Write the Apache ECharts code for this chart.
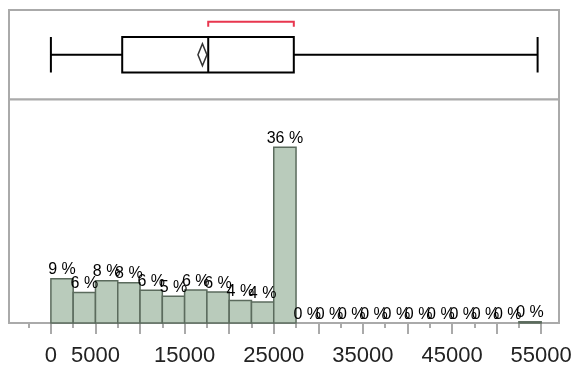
<!DOCTYPE html>
<html>
<head>
<meta charset="utf-8">
<script src="https://cdn.jsdelivr.net/npm/echarts@6/dist/echarts.min.js"></script>
<style>html,body{margin:0;padding:0;background:#fff;}#c{width:575px;height:367px;}</style>
</head>
<body>
<div id="c"></div>
<script>
// ---- data ----
const binStarts = [0, 2500, 5000, 7500, 10000, 12500, 15000, 17500, 20000, 22500, 25000,
  27500, 30000, 32500, 35000, 37500, 40000, 42500, 45000, 47500, 50000, 52500];
const binWidth = 2500;
const binPct = [9.05, 6.24, 8.65, 8.25, 6.7, 5.5, 6.76, 6.36, 4.63, 4.29, 36.0,
  0, 0, 0, 0, 0, 0, 0, 0, 0, 0, 0.25];
const boxValues = [0, 8000, 17650, 27250, 54600]; // min, Q1, median, Q3, max
const meanValue = 17000;
const majorTicks = [0, 5000, 10000, 15000, 20000, 25000, 30000, 35000, 40000, 45000, 50000, 55000];
const minorTicks = [-2500, 2500, 7500, 12500, 17500, 22500, 27500, 32500, 37500, 42500, 47500, 52500];
const tickLabels = [0, 5000, 15000, 25000, 35000, 45000, 55000];

const FONT = "'Liberation Sans', Arial, sans-serif";
const X_MIN = -4700, X_MAX = 57000;

const chart = echarts.init(document.getElementById('c'), null, {renderer: 'canvas'});
const gridStyle = {show: true, borderColor: '#aaaaaa', borderWidth: 2, backgroundColor: '#fff'};

const option = {
  animation: false,
  grid: [
    Object.assign({left: 9, right: 16, top: 10, height: 89.5}, gridStyle),
    Object.assign({left: 9, right: 16, top: 99.5, bottom: 39.7}, gridStyle)
  ],
  xAxis: [
    {gridIndex: 0, type: 'value', min: X_MIN, max: X_MAX, show: false},
    {gridIndex: 1, type: 'value', min: X_MIN, max: X_MAX, position: 'bottom',
      axisLine: {show: true, onZero: false, lineStyle: {color: '#aaaaaa', width: 2}},
      axisTick: {show: true, customValues: majorTicks, length: 11, lineStyle: {color: '#aaaaaa', width: 2}},
      axisLabel: {show: true, customValues: tickLabels, margin: 22, fontSize: 22, fontFamily: FONT, color: '#222',
        formatter: function (v) { return String(v); }},
      splitLine: {show: false}},
    {gridIndex: 1, type: 'value', min: X_MIN, max: X_MAX, position: 'bottom',
      axisLine: {show: false, onZero: false},
      axisTick: {show: true, customValues: minorTicks, length: 5, lineStyle: {color: '#aaaaaa', width: 2}},
      axisLabel: {show: false},
      splitLine: {show: false}}
  ],
  yAxis: [
    {gridIndex: 0, type: 'category', data: ['box'], show: false},
    {gridIndex: 1, type: 'value', min: 0, max: 45.8, show: false}
  ],
  series: [
    {
      type: 'boxplot', xAxisIndex: 0, yAxisIndex: 0,
      boxWidth: [35.5, 35.5],
      data: [boxValues],
      itemStyle: {color: '#fff', borderColor: '#000', borderWidth: 2},
      emphasis: {disabled: true}
    },
    {
      type: 'scatter', xAxisIndex: 0, yAxisIndex: 0, z: 5,
      symbol: 'diamond', symbolSize: [9, 22],
      data: [[meanValue, 0]],
      itemStyle: {color: '#fff', borderColor: '#000', borderWidth: 1.8}
    },
    {
      type: 'custom', xAxisIndex: 0, yAxisIndex: 0, z: 5,
      data: [[boxValues[2], boxValues[3]]],
      renderItem: function (params, api) {
        const a = api.coord([api.value(0), 0]);
        const b = api.coord([api.value(1), 0]);
        const y = a[1] - 33;
        return {
          type: 'polyline',
          shape: {points: [[a[0], y + 5], [a[0], y], [b[0], y], [b[0], y + 5]]},
          style: {stroke: '#e8364e', lineWidth: 2, fill: null}
        };
      }
    },
    {
      type: 'custom', xAxisIndex: 1, yAxisIndex: 1, z: 3,
      data: binStarts.map((s, i) => [s, binPct[i]]),
      encode: {x: 0, y: 1},
      renderItem: function (params, api) {
        const x0 = api.value(0);
        const v = api.value(1);
        const tl = api.coord([x0, v]);
        const br = api.coord([x0 + binWidth, 0]);
        return {
          type: 'rect',
          shape: {x: tl[0], y: tl[1], width: br[0] - tl[0], height: br[1] - tl[1]},
          style: {fill: '#b9cbbb', stroke: v > 0 ? '#5b6b5d' : null, lineWidth: v > 0 ? 1.5 : 0},
          textContent: {style: {text: Math.floor(v) + ' %', font: '16px ' + FONT, fill: '#000'}},
          textConfig: {position: 'top', distance: 0}
        };
      }
    }
  ]
};
chart.setOption(option);
</script>
</body>
</html>
